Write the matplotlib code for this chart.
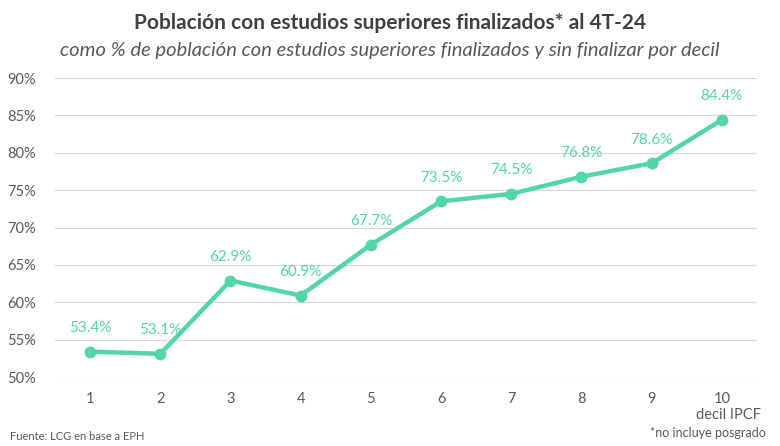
import matplotlib
matplotlib.use("Agg")
import matplotlib.pyplot as plt

deciles = [1, 2, 3, 4, 5, 6, 7, 8, 9, 10]
values = [53.4, 53.1, 62.9, 60.9, 67.7, 73.5, 74.5, 76.8, 78.6, 84.4]
yticks = [50, 55, 60, 65, 70, 75, 80, 85, 90]

plt.rcParams['font.family'] = ['Lato', 'DejaVu Sans']
green = '#52d6a6'
gray = '#595959'

fig = plt.figure(figsize=(7.8, 4.46), dpi=100)
ax = fig.add_axes([0.0705, 0.1547, 0.9, 0.6704])
ax.plot(deciles, values, color=green, lw=3.2, marker='o', ms=7.5, solid_capstyle='round', zorder=3)
for x, v in zip(deciles, values):
    ax.annotate(f"{v:.1f}%", (x, v), xytext=(0, 12), textcoords='offset points',
                ha='center', va='bottom', color=green, fontsize=11)
ax.set_xlim(0.5, 10.5)
ax.set_ylim(50, 90)
ax.set_yticks(yticks)
ax.set_yticklabels([f"{t}%" for t in yticks])
ax.set_xticks(deciles)
ax.grid(axis='y', color='#d9d9d9', lw=0.9)
ax.set_axisbelow(True)
for s in ax.spines.values():
    s.set_visible(False)
ax.tick_params(length=0, colors=gray, labelsize=10.5)
ax.tick_params(axis='x', pad=11)
ax.tick_params(axis='y', pad=14)

fig.text(0.5, 0.948, "Población con estudios superiores finalizados* al 4T-24", ha='center', va='center',
         fontsize=15, fontweight='bold', color='#404040')
fig.text(0.5, 0.886, "como % de población con estudios superiores finalizados y sin finalizar por decil",
         ha='center', va='center', fontsize=14.5, style='italic', color='#595959')
fig.text(0.975, 0.07, "decil IPCF", ha='right', va='center', fontsize=10.5, color=gray)
fig.text(0.013, 0.022, "Fuente: LCG en base a EPH", ha='left', va='center', fontsize=8, color=gray)
fig.text(0.982, 0.03, "*no incluye posgrado", ha='right', va='center', fontsize=9, color=gray)

fig.savefig("out.png", dpi=100)
